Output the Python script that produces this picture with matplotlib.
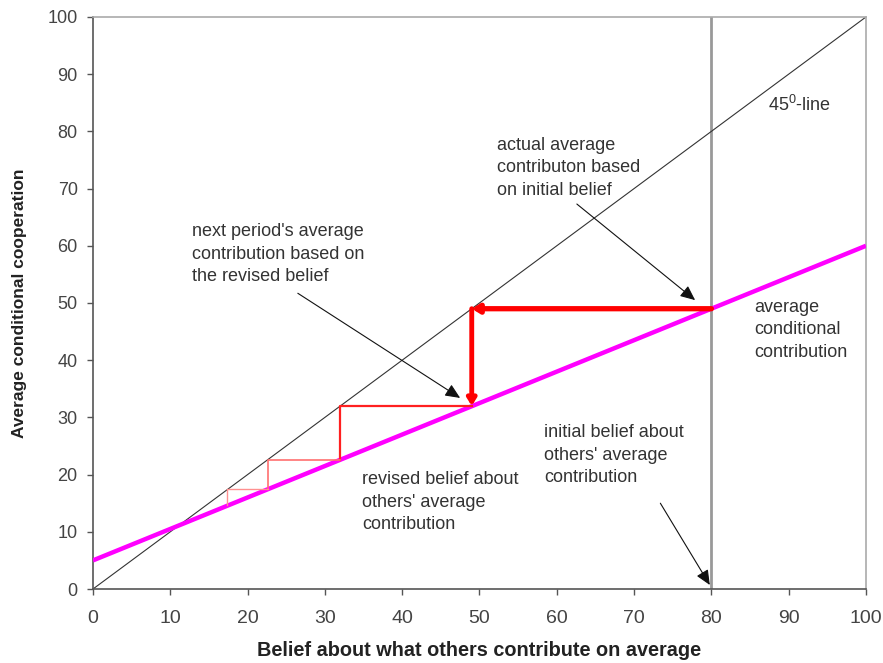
import matplotlib
matplotlib.use("Agg")
import matplotlib.pyplot as plt
from matplotlib.patches import FancyArrowPatch

plt.rcParams['font.family'] = ['Liberation Sans', 'DejaVu Sans']

# data
diag_x = [0, 100]
diag_y = [0, 100]
cond_x = [0, 100]
cond_y = [5, 60]
initial_belief = 80
# thick staircase (first step)
step1_x = [80, 49]
step1_y = [49, 49]
step1v_x = [49, 49]
step1v_y = [49, 32]
# thinner staircase (later steps)
step2_x = [49, 32, 32]
step2_y = [32, 32, 22.6]
step3_x = [32, 22.6, 22.6]
step3_y = [22.6, 22.6, 17.4]
step4_x = [22.6, 17.4, 17.4]
step4_y = [17.4, 17.4, 14.6]
xticks = list(range(0, 101, 10))
yticks = list(range(0, 101, 10))

fig = plt.figure(figsize=(8.83, 6.63), dpi=100)
ax = fig.add_axes([0.1053, 0.1116, 0.8754, 0.8628])
ax.set_xlim(0, 100)
ax.set_ylim(0, 100)

ax.plot(diag_x, diag_y, color='#333333', lw=0.8, zorder=2)
ax.axvline(initial_belief, color='#999999', lw=2, zorder=1)
ax.plot(cond_x, cond_y, color='#ff00ff', lw=3.2, zorder=3, solid_capstyle='butt')

ax.plot(step2_x, step2_y, color='#ff2020', lw=1.6, zorder=4)
ax.plot(step3_x, step3_y, color='#ff7070', lw=1.2, zorder=4)
ax.plot(step4_x, step4_y, color='#ff9090', lw=1.0, zorder=4)

ax.add_patch(FancyArrowPatch((step1_x[0], step1_y[0]), (step1_x[1], step1_y[1]),
                             arrowstyle='-|>,head_length=4,head_width=2.5', color='#ff0000', lw=3.8,
                             shrinkA=0, shrinkB=0, zorder=5))
ax.add_patch(FancyArrowPatch((step1v_x[0], step1v_y[0]), (step1v_x[1], step1v_y[1]),
                             arrowstyle='-|>,head_length=4,head_width=2.5', color='#ff0000', lw=3.5,
                             shrinkA=0, shrinkB=0, zorder=5))

fs = 13
tc = '#333333'
ls = 1.42
ax.text(87.3, 84.6, r'45$^{\mathregular{0}}$-line', fontsize=fs, color=tc, va='center', ha='left')
ax.text(52.3, 73.6, 'actual average\ncontributon based\non initial belief', fontsize=fs, color=tc,
        va='center', ha='left', linespacing=ls)
ax.text(12.8, 58.5, "next period's average\ncontribution based on\nthe revised belief", fontsize=fs,
        color=tc, va='center', ha='left', linespacing=ls)
ax.text(85.6, 45.3, 'average\nconditional\ncontribution', fontsize=fs, color=tc, va='center', ha='left',
        linespacing=ls)
ax.text(34.8, 15.2, "revised belief about\nothers' average\ncontribution", fontsize=fs, color=tc,
        va='center', ha='left', linespacing=ls)
ax.text(58.4, 23.4, "initial belief about\nothers' average\ncontribution", fontsize=fs, color=tc,
        va='center', ha='left', linespacing=ls)

arrow_kw = dict(arrowstyle='-|>,head_length=9,head_width=4', color='#111111', lw=0.8,
                shrinkA=0, shrinkB=0, zorder=6)
ax.add_patch(FancyArrowPatch((62.6, 67.3), (77.9, 50.5), **arrow_kw))
ax.add_patch(FancyArrowPatch((26.5, 51.7), (47.5, 33.4), **arrow_kw))
ax.add_patch(FancyArrowPatch((73.4, 15.0), (79.8, 0.7), **arrow_kw))

ax.set_xticks(xticks)
ax.set_yticks(yticks)
ax.tick_params(direction='out', length=4, width=1, color='#555555', labelcolor='#444444')
ax.tick_params(axis='x', pad=11, labelsize=14)
ax.tick_params(axis='y', pad=7, labelsize=13)
for s in ['left', 'bottom']:
    ax.spines[s].set_color('#555555')
    ax.spines[s].set_linewidth(1.2)
for s in ['top', 'right']:
    ax.spines[s].set_color('#aaaaaa')
    ax.spines[s].set_linewidth(1.2)

ax.set_xlabel('Belief about what others contribute on average', fontsize=14.3, fontweight='bold',
              color='#222222', labelpad=10)
ax.set_ylabel('Average conditional cooperation', fontsize=12.5, fontweight='bold', color='#222222')
ax.yaxis.set_label_coords(-0.085, 0.5)

fig.savefig('out.png', dpi=100)
